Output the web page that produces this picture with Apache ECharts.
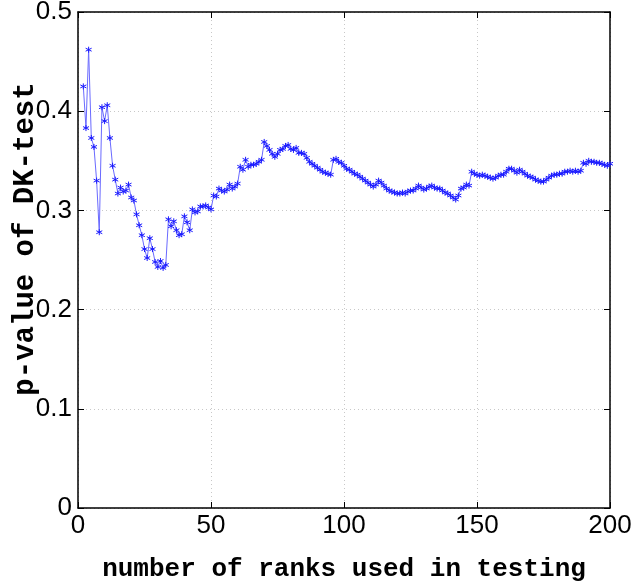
<!DOCTYPE html>
<html>
<head>
<meta charset="utf-8">
<script src="https://cdn.jsdelivr.net/npm/echarts@6/dist/echarts.min.js"></script>
<style>
  html, body { margin: 0; padding: 0; background: #ffffff; }
  #chart { width: 632px; height: 581px; }
</style>
</head>
<body>
<div id="chart"></div>
<script>
// Number of ranks used in testing (2 .. 200)
const ranks = [];
for (let n = 2; n <= 200; n++) ranks.push(n);

// p-value of the DK-test for each rank count
const pValues = [
  0.425, 0.383, 0.462, 0.373, 0.364, 0.330, 0.278, 0.404, 0.390, 0.406,
  0.373, 0.345, 0.331, 0.317, 0.323, 0.319, 0.320, 0.326, 0.313, 0.310,
  0.296, 0.285, 0.275, 0.261, 0.252, 0.272, 0.261, 0.248, 0.243, 0.249,
  0.242, 0.245, 0.291, 0.284, 0.289, 0.280, 0.275, 0.276, 0.294, 0.288,
  0.280, 0.301, 0.298, 0.299, 0.304, 0.304, 0.305, 0.303, 0.301, 0.315,
  0.314, 0.322, 0.320, 0.319, 0.321, 0.326, 0.322, 0.324, 0.327, 0.344,
  0.341, 0.351, 0.344, 0.346, 0.346, 0.347, 0.349, 0.351, 0.369, 0.365,
  0.361, 0.357, 0.354, 0.357, 0.361, 0.362, 0.365, 0.366, 0.362, 0.361,
  0.363, 0.358, 0.358, 0.357, 0.353, 0.349, 0.347, 0.345, 0.343, 0.341,
  0.339, 0.338, 0.337, 0.336, 0.351, 0.352, 0.349, 0.348, 0.345, 0.342,
  0.341, 0.339, 0.337, 0.336, 0.334, 0.332, 0.330, 0.328, 0.326, 0.324,
  0.326, 0.330, 0.328, 0.325, 0.322, 0.320, 0.319, 0.318, 0.317, 0.317,
  0.318, 0.317, 0.319, 0.320, 0.320, 0.322, 0.325, 0.323, 0.321, 0.322,
  0.324, 0.325, 0.323, 0.322, 0.322, 0.320, 0.318, 0.317, 0.315, 0.313,
  0.311, 0.315, 0.322, 0.323, 0.326, 0.325, 0.339, 0.337, 0.336, 0.335,
  0.336, 0.335, 0.334, 0.333, 0.332, 0.333, 0.335, 0.336, 0.336, 0.339,
  0.342, 0.342, 0.340, 0.338, 0.341, 0.339, 0.337, 0.335, 0.334, 0.333,
  0.331, 0.330, 0.329, 0.329, 0.331, 0.333, 0.335, 0.336, 0.336, 0.337,
  0.337, 0.339, 0.339, 0.340, 0.339, 0.340, 0.339, 0.340, 0.348, 0.347,
  0.350, 0.349, 0.349, 0.348, 0.348, 0.347, 0.346, 0.345, 0.347
];

const xTicks = [0, 50, 100, 150, 200];
const yTicks = [0, 0.1, 0.2, 0.3, 0.4, 0.5];

const tickFont = { fontFamily: 'Liberation Sans, Arial, sans-serif', fontSize: 26, color: '#000' };
const nameFont = { fontFamily: 'Liberation Mono, Courier New, monospace', fontWeight: 'bold', color: '#000' };
const gridLine = { show: true, lineStyle: { color: '#c8c8c8', type: [1, 3], width: 1 } };
const frame = { show: true, onZero: false, lineStyle: { color: '#000', width: 1.5 } };
const innerTick = { show: true, inside: true, length: 6, lineStyle: { color: '#000', width: 1 } };

const chart = echarts.init(document.getElementById('chart'), null, { renderer: 'canvas' });
chart.setOption({
  animation: false,
  backgroundColor: '#ffffff',
  grid: { left: 78, right: 22, top: 12, bottom: 73, outerBoundsMode: 'none', containLabel: false },
  xAxis: [
    {
      type: 'value', min: xTicks[0], max: xTicks[xTicks.length - 1], interval: 50,
      name: 'number of ranks used in testing', nameLocation: 'middle', nameGap: 48,
      nameMoveOverlap: false,
      nameTextStyle: Object.assign({ fontSize: 26 }, nameFont),
      axisLine: frame, axisTick: innerTick, splitLine: gridLine,
      axisLabel: Object.assign({ margin: 5 }, tickFont)
    },
    {
      type: 'value', position: 'top', min: 0, max: 200, interval: 50,
      axisLine: frame, axisTick: innerTick, splitLine: { show: false },
      axisLabel: { show: false }
    }
  ],
  yAxis: [
    {
      type: 'value', min: yTicks[0], max: yTicks[yTicks.length - 1], interval: 0.1,
      name: 'p-value of DK-test', nameLocation: 'middle', nameGap: 38,
      nameMoveOverlap: false,
      nameTextStyle: Object.assign({ fontSize: 29, padding: [0, 0, 0, 42] }, nameFont),
      axisLine: frame, axisTick: innerTick, splitLine: gridLine,
      axisLabel: Object.assign({
        margin: 6,
        formatter: v => (v === 0 ? '0' : v.toFixed(1))
      }, tickFont)
    },
    {
      type: 'value', position: 'right', min: 0, max: 0.5, interval: 0.1,
      axisLine: frame, axisTick: innerTick, splitLine: { show: false },
      axisLabel: { show: false }
    }
  ],
  series: [{
    type: 'line',
    data: ranks.map((n, i) => [n, pValues[i]]),
    symbol: 'path://M0,-5L0,5M-4.3,-2.5L4.3,2.5M-4.3,2.5L4.3,-2.5',
    symbolSize: 6,
    showSymbol: true,
    lineStyle: { color: '#6a6aff', width: 1 },
    itemStyle: { color: 'rgba(0,0,0,0)', borderColor: '#1a1aff', borderWidth: 1 }
  }]
});
</script>
</body>
</html>
